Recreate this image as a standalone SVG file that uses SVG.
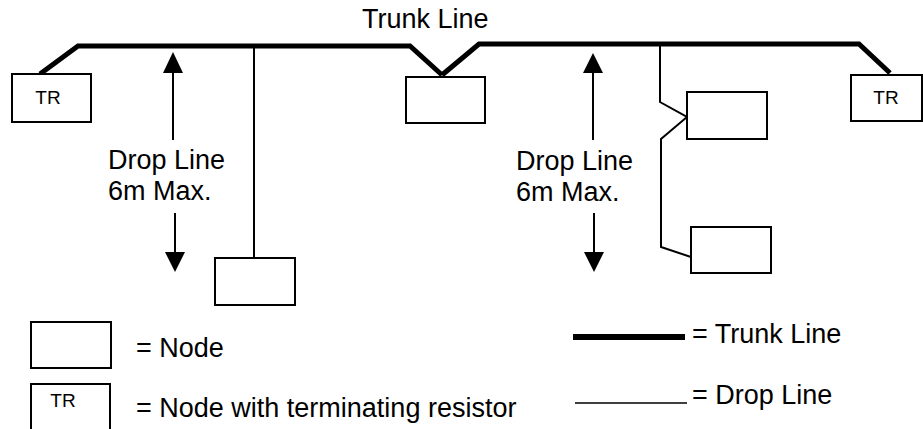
<svg xmlns="http://www.w3.org/2000/svg" width="923" height="429" viewBox="0 0 923 429">
<style>
.box{fill:#fff;stroke:#000;stroke-width:2}
.trunk{fill:none;stroke:#000;stroke-width:5;stroke-linejoin:miter}
.drop{fill:none;stroke:#000;stroke-width:2}
.t{font-family:"Liberation Sans",Arial,sans-serif;font-size:27px;fill:#000}
.s{font-family:"Liberation Sans",Arial,sans-serif;font-size:19px;fill:#000}
</style>
<rect width="923" height="429" fill="#fff"/>
<g id="connectors">
<polyline class="trunk" points="40,74 78,46 410,46 442,75"/>
<polyline class="trunk" points="442,75 479,44 859,44 890,73"/>
<line class="drop" x1="254" y1="46" x2="254" y2="260"/>
<polyline class="drop" points="660,44 660,102 687,117 661,139 661,247 691,257"/>
<line class="drop" x1="173" y1="72" x2="173" y2="140"/>
<polygon points="173,52 163,73 183,73" fill="#000"/>
<line class="drop" x1="175" y1="213" x2="175" y2="254"/>
<polygon points="175,272 165,252 185,252" fill="#000"/>
<line class="drop" x1="593" y1="72" x2="593" y2="140"/>
<polygon points="593,53 583,73 603,73" fill="#000"/>
<line class="drop" x1="594" y1="213" x2="594" y2="254"/>
<polygon points="594,272 584,252 604,252" fill="#000"/>
</g>
<g id="node-tr-left"><rect class="box" x="12" y="74" width="79" height="48"/><text class="s" x="48" y="104" text-anchor="middle">TR</text></g>
<g id="node-mid"><rect class="box" x="406" y="77" width="79" height="46"/></g>
<g id="node-drop1"><rect class="box" x="215" y="258" width="80" height="47"/></g>
<g id="node-branch1"><rect class="box" x="687" y="92" width="80" height="47"/></g>
<g id="node-branch2"><rect class="box" x="691" y="227" width="80" height="46"/></g>
<g id="node-tr-right"><rect class="box" x="851" y="75" width="71" height="46"/><text class="s" x="886" y="104" text-anchor="middle">TR</text></g>
<g id="labels">
<text class="t" x="362" y="28">Trunk Line</text>
<text class="t" x="108" y="169">Drop Line</text>
<text class="t" x="108" y="200">6m Max.</text>
<text class="t" x="516" y="170">Drop Line</text>
<text class="t" x="516" y="201">6m Max.</text>
</g>
<g id="legend">
<rect class="box" x="31" y="322" width="80" height="46"/>
<text class="t" x="136" y="357">= Node</text>
<rect class="box" x="31" y="384" width="79" height="50"/>
<text class="s" x="63" y="407" text-anchor="middle">TR</text>
<text class="t" x="136" y="417">= Node with terminating resistor</text>
<line x1="573" y1="337" x2="685" y2="337" stroke="#000" stroke-width="6"/>
<text class="t" x="692" y="343">= Trunk Line</text>
<line x1="575" y1="403" x2="687" y2="403" stroke="#000" stroke-width="1.5"/>
<text class="t" x="692" y="404">= Drop Line</text>
</g>
</svg>
